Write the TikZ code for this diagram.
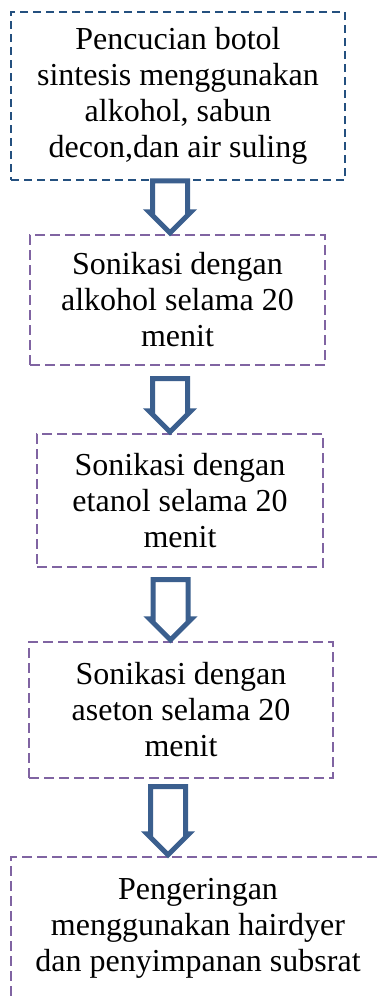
\documentclass[tikz,border=0pt]{standalone}
\usepackage{fontspec}
\setmainfont{Liberation Serif}
\usepackage{tikz}
\usetikzlibrary{calc,positioning}
\definecolor{washblue}{HTML}{24507F}
\definecolor{arrowblue}{HTML}{3B5F8E}
\definecolor{stepviolet}{HTML}{8064A2}
\newcommand{\flowarrow}[4]{%
  \draw[flowarrow] let \p1=(#1.south), \p2=(#2.north) in
    (#3-17.5,\y1+#4) -- (#3+17.5,\y1+#4) -- (#3+17.5,\y2+22) -- (#3+21,\y2+22)
    -- (#3,\y2+1) -- (#3-21,\y2+22) -- (#3-17.5,\y2+22) -- cycle;}

\begin{document}
\begin{tikzpicture}[x=1pt,y=1pt,
  stepbox/.style={align=center,inner sep=0pt,font=\fontsize{32}{36}\selectfont},
  washbox/.style={stepbox,draw=washblue,line width=2.7pt,dash pattern=on 8pt off 5pt},
  sonicbox/.style={stepbox,draw=stepviolet,line width=2.3pt,dash pattern=on 10pt off 5pt},
  flowarrow/.style={draw=arrowblue,fill=white,line width=5pt,miter limit=10}]
  \useasboundingbox (0,0) rectangle (378,-996);
  \node[washbox,minimum width=334,minimum height=168] (wash) at (178,-96)
    {Pencucian botol\\sintesis menggunakan\\alkohol, sabun\\decon,dan air suling};
  \node[sonicbox,minimum width=295,minimum height=130] (alco) at (177.5,-300)
    {Sonikasi dengan\\alkohol selama 20\\menit};
  \node[sonicbox,minimum width=286,minimum height=133] (etha) at (180,-500.5)
    {Sonikasi dengan\\etanol selama 20\\menit};
  \node[sonicbox,minimum width=304,minimum height=136] (acet) at (181,-710)
    {Sonikasi dengan\\aseton selama 20\\menit};
  \node[sonicbox,minimum width=374,minimum height=143] (dry) at (198,-928.5)
    {Pengeringan\\menggunakan hairdyer\\dan penyimpanan subsrat};
  \flowarrow{wash}{alco}{170}{0.5}
  \flowarrow{alco}{etha}{170}{-12.5}
  \flowarrow{etha}{acet}{170.5}{-11.5}
  \flowarrow{acet}{dry}{168}{-7.5}
\end{tikzpicture}
\end{document}
